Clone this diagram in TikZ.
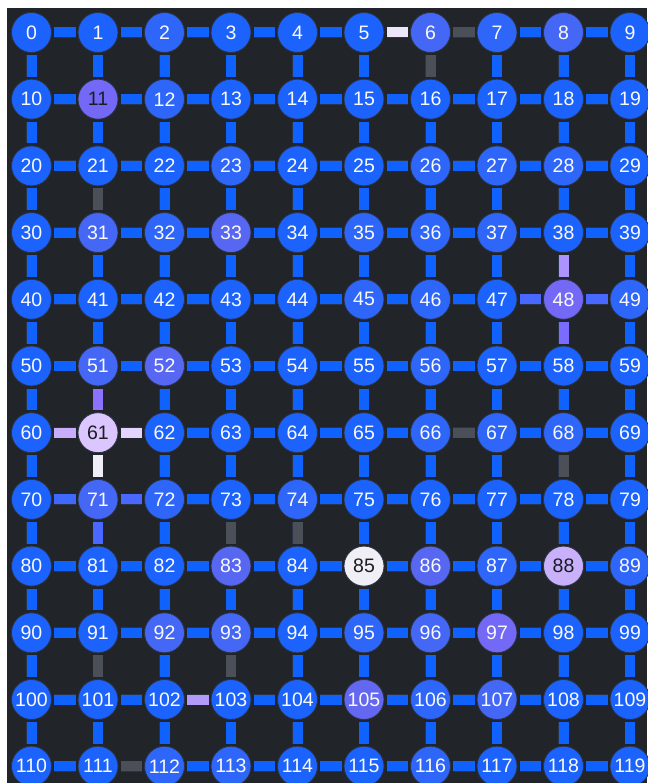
\documentclass[tikz,border=0pt]{standalone}
\usepackage{fontspec}
\setmainfont{Liberation Sans}
\pgfdeclarelayer{bg}
\pgfdeclarelayer{edges}
\pgfsetlayers{bg,edges,main}
\definecolor{bgdark}{HTML}{212529}
\definecolor{rim}{HTML}{2A3348}
\definecolor{eblue}{HTML}{0F62FE}
\definecolor{egray}{HTML}{4B5058}
\definecolor{nb0}{HTML}{1C63FD}
\definecolor{nb1}{HTML}{2F66FA}
\definecolor{nb2}{HTML}{4567F6}
\definecolor{nb3}{HTML}{5767F2}
\definecolor{npur}{HTML}{7468F6}
\definecolor{nonefive}{HTML}{6467F0}
\definecolor{nlil}{HTML}{DCC6FF}
\definecolor{nlil2}{HTML}{C9B0FB}
\definecolor{nwhite}{HTML}{F1EFF6}
\definecolor{txtlight}{HTML}{F8F9FA}
\definecolor{txtdark}{HTML}{1A1D21}
\tikzset{
  gridnode/.style={circle, minimum size=40pt, inner sep=0pt, outer sep=2.5pt,
    draw=rim, line width=0.8pt, fill=nb0, text=txtlight,
    font=\fontsize{19.5}{21}\selectfont},
  darktext/.style={text=txtdark},
  gridedge/.style={line width=0.45pt, draw=rim, double=eblue, double distance=10pt},
  grayedge/.style={double=egray},
  nd2/.style={fill=nb1}, nd7/.style={fill=nb1}, nd12/.style={fill=nb1},
  nd23/.style={fill=nb1}, nd26/.style={fill=nb1}, nd27/.style={fill=nb1},
  nd28/.style={fill=nb1}, nd32/.style={fill=nb1}, nd35/.style={fill=nb1},
  nd36/.style={fill=nb1}, nd37/.style={fill=nb1}, nd45/.style={fill=nb1},
  nd46/.style={fill=nb1}, nd49/.style={fill=nb1}, nd56/.style={fill=nb1},
  nd66/.style={fill=nb1}, nd67/.style={fill=nb1}, nd68/.style={fill=nb1},
  nd72/.style={fill=nb1}, nd74/.style={fill=nb1}, nd87/.style={fill=nb1},
  nd89/.style={fill=nb1}, nd95/.style={fill=nb1}, nd106/.style={fill=nb1},
  nd112/.style={fill=nb1}, nd113/.style={fill=nb1}, nd116/.style={fill=nb1},
  nd6/.style={fill=nb2}, nd8/.style={fill=nb2}, nd31/.style={fill=nb2},
  nd51/.style={fill=nb2}, nd71/.style={fill=nb2}, nd92/.style={fill=nb2},
  nd93/.style={fill=nb2}, nd96/.style={fill=nb2}, nd107/.style={fill=nb2},
  nd33/.style={fill=nb3}, nd52/.style={fill=nb3}, nd83/.style={fill=nb3},
  nd86/.style={fill=nb3},
  nd11/.style={fill=npur, darktext}, nd48/.style={fill=npur}, nd97/.style={fill=npur},
  nd105/.style={fill=nonefive},
  nd61/.style={fill=nlil, darktext}, nd88/.style={fill=nlil2, darktext},
  nd85/.style={fill=nwhite, darktext},
  ed6-7/.style={grayedge}, ed6-16/.style={grayedge}, ed21-31/.style={grayedge},
  ed66-67/.style={grayedge}, ed68-78/.style={grayedge}, ed73-83/.style={grayedge},
  ed74-84/.style={grayedge}, ed91-101/.style={grayedge}, ed93-103/.style={grayedge},
  ed111-112/.style={grayedge},
  ed5-6/.style={double={rgb,255:red,236;green,230;blue,248}},
  ed61-71/.style={double={rgb,255:red,240;green,238;blue,246}},
  ed61-62/.style={double={rgb,255:red,226;green,211;blue,255}},
  ed60-61/.style={double={rgb,255:red,200;green,173;blue,255}},
  ed38-48/.style={double={rgb,255:red,172;green,148;blue,255}},
  ed102-103/.style={double={rgb,255:red,180;green,154;blue,248}},
  ed51-61/.style={double={rgb,255:red,141;green,114;blue,255}},
  ed48-58/.style={double={rgb,255:red,122;green,108;blue,255}},
  ed47-48/.style={double={rgb,255:red,72;green,104;blue,255}},
  ed48-49/.style={double={rgb,255:red,72;green,104;blue,255}},
  ed70-71/.style={double={rgb,255:red,63;green,104;blue,255}},
  ed71-72/.style={double={rgb,255:red,74;green,104;blue,255}},
  ed71-81/.style={double={rgb,255:red,74;green,104;blue,255}},
}
\begin{document}
\begin{tikzpicture}[x=1pt, y=-1pt]
\useasboundingbox (0,0) rectangle (647,783);
\begin{pgfonlayer}{bg}
  \fill[white] (0,0) rectangle (647,783);
  \fill[bgdark] (7,8) rectangle (647,783);
\end{pgfonlayer}
% nodes
\foreach \r in {0,...,11}{
  \foreach \c in {0,...,9}{
    \pgfmathtruncatemacro\idx{10*\r+\c}
    \node[gridnode, nd\idx/.try] (n\idx) at ({31.5+66.5*\c},{32.5+66.7*\r}) {\idx};
  }
}
% connectors
\begin{pgfonlayer}{edges}
\foreach \r in {0,...,11}{
  \foreach \c in {0,...,8}{
    \pgfmathtruncatemacro\a{10*\r+\c}
    \pgfmathtruncatemacro\b{\a+1}
    \draw[gridedge, ed\a-\b/.try] (n\a) -- (n\b);
  }
}
\foreach \r in {0,...,10}{
  \foreach \c in {0,...,9}{
    \pgfmathtruncatemacro\a{10*\r+\c}
    \pgfmathtruncatemacro\b{\a+10}
    \draw[gridedge, ed\a-\b/.try] (n\a) -- (n\b);
  }
}
\end{pgfonlayer}
\end{tikzpicture}
\end{document}
